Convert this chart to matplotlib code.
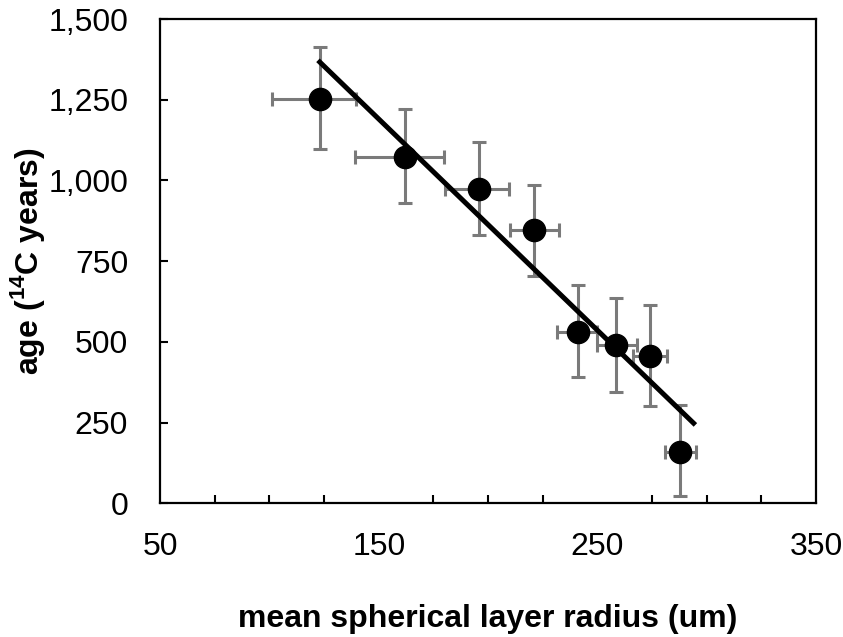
import matplotlib
matplotlib.use("Agg")
import matplotlib.pyplot as plt
from matplotlib.ticker import FuncFormatter

plt.rcParams['font.family'] = ['Liberation Sans', 'DejaVu Sans']
plt.rcParams['mathtext.fontset'] = 'custom'
plt.rcParams['mathtext.bf'] = 'Liberation Sans:bold'
plt.rcParams['mathtext.rm'] = 'Liberation Sans'

# радиус слоя (um) и возраст (14C лет)
radius = [123, 162, 196, 221, 241, 258.5, 274, 288]
age = [1252, 1072, 973, 846, 530, 490, 455, 158]
radius_err_lo = [22, 23, 15.5, 11, 9.6, 8.7, 7.8, 7]
radius_err_hi = [16.5, 18, 13.7, 11.4, 8.7, 9.6, 7.8, 7.3]
age_err_lo = [155, 142, 143, 143, 140, 146, 155, 136]
age_err_hi = [161, 149, 146, 139, 146, 145, 159, 146]

# линия тренда (концы)
fit_x = [123, 294]
fit_y = [1367, 248]

x_ticks = [50, 150, 250, 350]
y_ticks = [0, 250, 500, 750, 1000, 1250, 1500]

fig = plt.figure(figsize=(8.43, 6.37), dpi=100)
ax = fig.add_axes([0.19, 0.21, 0.778, 0.76])

ax.errorbar(radius, age, xerr=[radius_err_lo, radius_err_hi],
            yerr=[age_err_lo, age_err_hi], fmt='none',
            ecolor='#7a7a7a', elinewidth=2.2, capsize=5, capthick=2.2, zorder=2)
ax.plot(fit_x, fit_y, color='black', linewidth=3.6, zorder=3)
ax.plot(radius, age, 'o', color='black', markersize=16, zorder=4)

ax.set_xlim(50, 350)
ax.set_ylim(0, 1500)
ax.set_xticks(x_ticks)
ax.set_xticks(range(50, 351, 25), minor=True)
ax.set_yticks(y_ticks)
ax.yaxis.set_major_formatter(FuncFormatter(lambda v, p: f"{int(v):,}"))

ax.tick_params(axis='x', which='major', direction='in', length=0, pad=21, labelsize=23)
ax.tick_params(axis='x', which='minor', direction='in', length=6, width=1.5)
ax.tick_params(axis='y', which='major', direction='in', length=6, width=1.5, pad=23, labelsize=23)

for s in ax.spines.values():
    s.set_linewidth(1.6)

ax.set_xlabel('mean spherical layer radius (um)', fontsize=23, fontweight='bold', labelpad=30)
ax.set_ylabel(r'age ($^{\mathbf{14}}$C years)', fontsize=23, fontweight='bold')
ax.yaxis.set_label_coords(-0.172, 0.5)

fig.savefig('out.png', dpi=100)
